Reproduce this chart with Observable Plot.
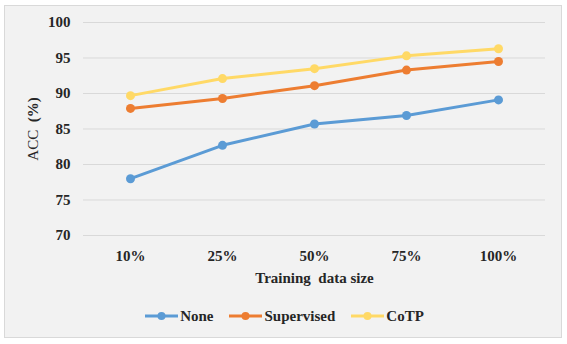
<!DOCTYPE html>
<html>
<head>
<meta charset="utf-8">
<script src="https://cdn.jsdelivr.net/npm/d3@7"></script>
<script src="https://cdn.jsdelivr.net/npm/@observablehq/plot@0.6"></script>
<style>
  html, body { margin: 0; padding: 0; background: #ffffff; }
  #wrap { position: relative; width: 567px; height: 344px; overflow: hidden; }
  #panel { position: absolute; left: 4px; top: 5px; width: 556px; height: 331px;
           border: 1px solid #d9d9d9; background: #f2f2f2; }
  #chart { position: absolute; left: 0; top: 0; }
  #legend { position: absolute; left: 0; top: 306px; width: 567px; height: 20px;
            display: flex; justify-content: center; align-items: center; gap: 16px;
            padding-left: 2px; box-sizing: border-box;
            font-family: "Liberation Serif", "Times New Roman", serif; font-weight: bold; font-size: 15px; color: #262626; }
  .item { display: flex; align-items: center; gap: 2px; }
  .item svg { display: block; }
</style>
</head>
<body>
<div id="wrap">
  <div id="panel"></div>
  <div id="chart"></div>
  <div id="legend"></div>
</div>
<script>
// Accuracy by training data size for three pretraining strategies
const sizes = ["10%", "25%", "50%", "75%", "100%"];
const seriesNames = ["None", "Supervised", "CoTP"];
const noneAcc = [78.0, 82.7, 85.7, 86.9, 89.1];
const supervisedAcc = [87.9, 89.3, 91.1, 93.3, 94.5];
const cotpAcc = [89.7, 92.1, 93.5, 95.3, 96.3];
const yTicks = [70, 75, 80, 85, 90, 95, 100];
const colors = ["#5b9bd5", "#ed7d31", "#ffd966"];

const seriesValues = [noneAcc, supervisedAcc, cotpAcc];
const rows = seriesNames.flatMap((name, i) =>
  sizes.map((s, j) => ({series: name, size: s, acc: seriesValues[i][j]}))
);

const font = "'Liberation Serif', 'Times New Roman', serif";

const chart = Plot.plot({
  width: 567,
  height: 290,
  marginTop: 22,
  marginBottom: 55,
  marginLeft: 83,
  marginRight: 22,
  style: {background: "transparent", fontFamily: font, fontSize: "15px", fontWeight: "bold", color: "#262626"},
  x: {type: "point", domain: sizes, padding: 0.5},
  y: {domain: [70, 100], ticks: yTicks},
  color: {domain: seriesNames, range: colors},
  marks: [
    Plot.ruleY(yTicks, {stroke: "#d9d9d9", strokeWidth: 1}),
    Plot.axisY({ticks: yTicks, tickSize: 0, tickPadding: 13, label: "ACC  (%)", labelAnchor: "center", labelOffset: 56, labelArrow: "none"}),
    Plot.axisX({tickSize: 0, tickPadding: 15, label: "Training  data size", labelAnchor: "center", labelOffset: 47, labelArrow: "none"}),
    Plot.line(rows, {x: "size", y: "acc", z: "series", stroke: "series", strokeWidth: 3, strokeLinejoin: "round", strokeLinecap: "round"}),
    Plot.dot(rows, {x: "size", y: "acc", fill: "series", r: 4.5})
  ]
});
document.getElementById("chart").appendChild(chart);

// Keep the double spaces in the axis titles, and set "ACC" in regular weight
d3.select(chart).selectAll("text").each(function() {
  const t = this.textContent;
  if (t === "ACC  (%)") {
    const sel = d3.select(this).attr("xml:space", "preserve").style("white-space", "pre");
    sel.text(null);
    sel.append("tspan").attr("font-weight", "normal").text("ACC  ");
    sel.append("tspan").text("(%)");
  } else if (t === "Training  data size") {
    d3.select(this).attr("xml:space", "preserve").style("white-space", "pre");
  }
});

// Legend: a short line with a dot for each series
const legend = d3.select("#legend");
seriesNames.forEach((name, i) => {
  const item = legend.append("div").attr("class", "item");
  const sw = item.append("svg").attr("width", 33).attr("height", 12);
  sw.append("line").attr("x1", 0).attr("x2", 33).attr("y1", 6).attr("y2", 6)
    .attr("stroke", colors[i]).attr("stroke-width", 3);
  sw.append("circle").attr("cx", 16.5).attr("cy", 6).attr("r", 4).attr("fill", colors[i]);
  item.append("span").text(name);
});
</script>
</body>
</html>
